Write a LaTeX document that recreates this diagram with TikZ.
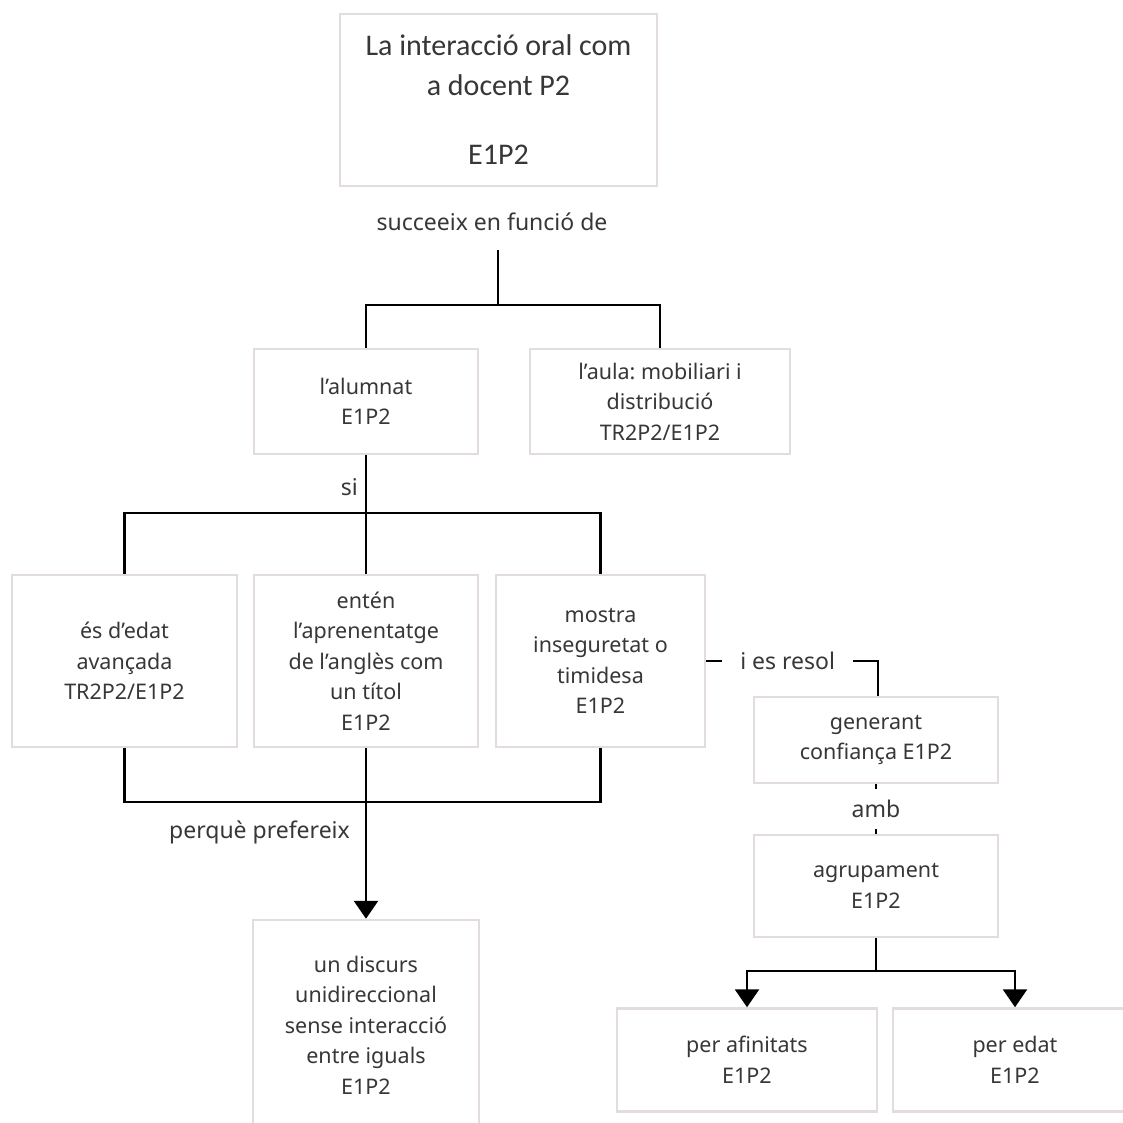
\documentclass[tikz,border=0pt]{standalone}
\usepackage{fontspec}
\setmainfont{Noto Sans}
\newfontfamily\titlefont{Carlito}
\usetikzlibrary{arrows.meta}
\definecolor{boxgray}{RGB}{226,220,223}
\definecolor{textgray}{RGB}{55,55,55}
\frenchspacing
\begin{document}
\begin{tikzpicture}[x=1pt,y=-1pt,
  box/.style={draw=boxgray, line width=2.5pt, fill=white, align=center,
    text=textgray, font=\fontsize{21.5}{30.5}\selectfont, inner sep=0pt},
  conn/.style={draw=black, line width=2.7pt},
  lbl/.style={text=textgray, font=\fontsize{23}{30}\selectfont, inner sep=0pt},
  gap/.style={lbl, fill=white},
  tip/.style={-{Triangle[width=24pt,length=18pt]}}
]
\useasboundingbox[fill=white] (0,0) rectangle (1123,1122);

% boxes
\node[box, minimum width=317pt, minimum height=172pt,
  font=\titlefont\fontsize{30}{40}\selectfont] (top) at (498.5,100)
  {La interacció oral com\\a docent P2\\[29pt]E1P2};
\node[box, minimum width=224pt, minimum height=105pt] (alumnat) at (366,401.5)
  {l’alumnat\\E1P2};
\node[box, minimum width=260pt, minimum height=105pt] (aula) at (660,401.5)
  {l’aula: mobiliari i\\distribució\\TR2P2/E1P2};
\node[box, minimum width=225pt, minimum height=172pt] (edat) at (124.5,661)
  {és d’edat\\avançada\\TR2P2/E1P2};
\node[box, minimum width=224pt, minimum height=172pt] (enten) at (366,661)
  {entén\\l’aprenentatge\\de l’anglès com\\un títol\\E1P2};
\node[box, minimum width=209pt, minimum height=172pt] (mostra) at (600.5,661)
  {mostra\\inseguretat o\\timidesa\\E1P2};
\node[box, minimum width=226pt, minimum height=210pt] (discurs) at (366,1025)
  {un discurs\\unidireccional\\sense interacció\\entre iguals\\E1P2};
\node[box, minimum width=244pt, minimum height=86pt] (generant) at (876,740)
  {generant\\confiança E1P2};
\node[box, minimum width=244pt, minimum height=102pt] (agrup) at (876,886)
  {agrupament\\E1P2};
\node[box, minimum width=260pt, minimum height=103pt] (afinitats) at (747,1060)
  {per afinitats\\E1P2};
\node[box, minimum width=244pt, minimum height=103pt] (peredat) at (1015,1060)
  {per edat\\E1P2};

% labels
\node[lbl] (lsucc) at (492,222) {succeeix en funció de};
\node[lbl, anchor=east] (lsi) at (358,487) {si};
\node[lbl, anchor=east] (lperque) at (350,832) {perquè prefereix};

% junction points
\coordinate (c1) at (498,250);
\coordinate (f1) at (498,305);
\coordinate (f2) at (366,513);
\coordinate (f3) at (366,802);
\coordinate (f4) at (876,971);

% connectors
\draw[conn] (c1) -- (f1);
\draw[conn] (f1) -| (alumnat.north);
\draw[conn] (f1) -| (aula.north);
\draw[conn] (alumnat.south) -- (f2);
\draw[conn] (f2) -| (edat.north);
\draw[conn] (f2) -| (mostra.north);
\draw[conn] (f2) -- (enten.north);
\draw[conn] (edat.south) |- (f3);
\draw[conn] (mostra.south) |- (f3);
\draw[conn, tip] (enten.south) -- (discurs.north);
\draw[conn] (mostra.east) -| node[gap, pos=0.237, minimum width=131pt, minimum height=30pt] (lres) {i es resol} ([xshift=2pt]generant.north);
\draw[conn] (generant.south) -- node[gap, minimum height=40pt] (lamb) {amb} (agrup.north);
\draw[conn] (agrup.south) -- (f4);
\draw[conn, tip] (f4) -| (afinitats.north);
\draw[conn, tip] (f4) -| (peredat.north);
\end{tikzpicture}
\end{document}
